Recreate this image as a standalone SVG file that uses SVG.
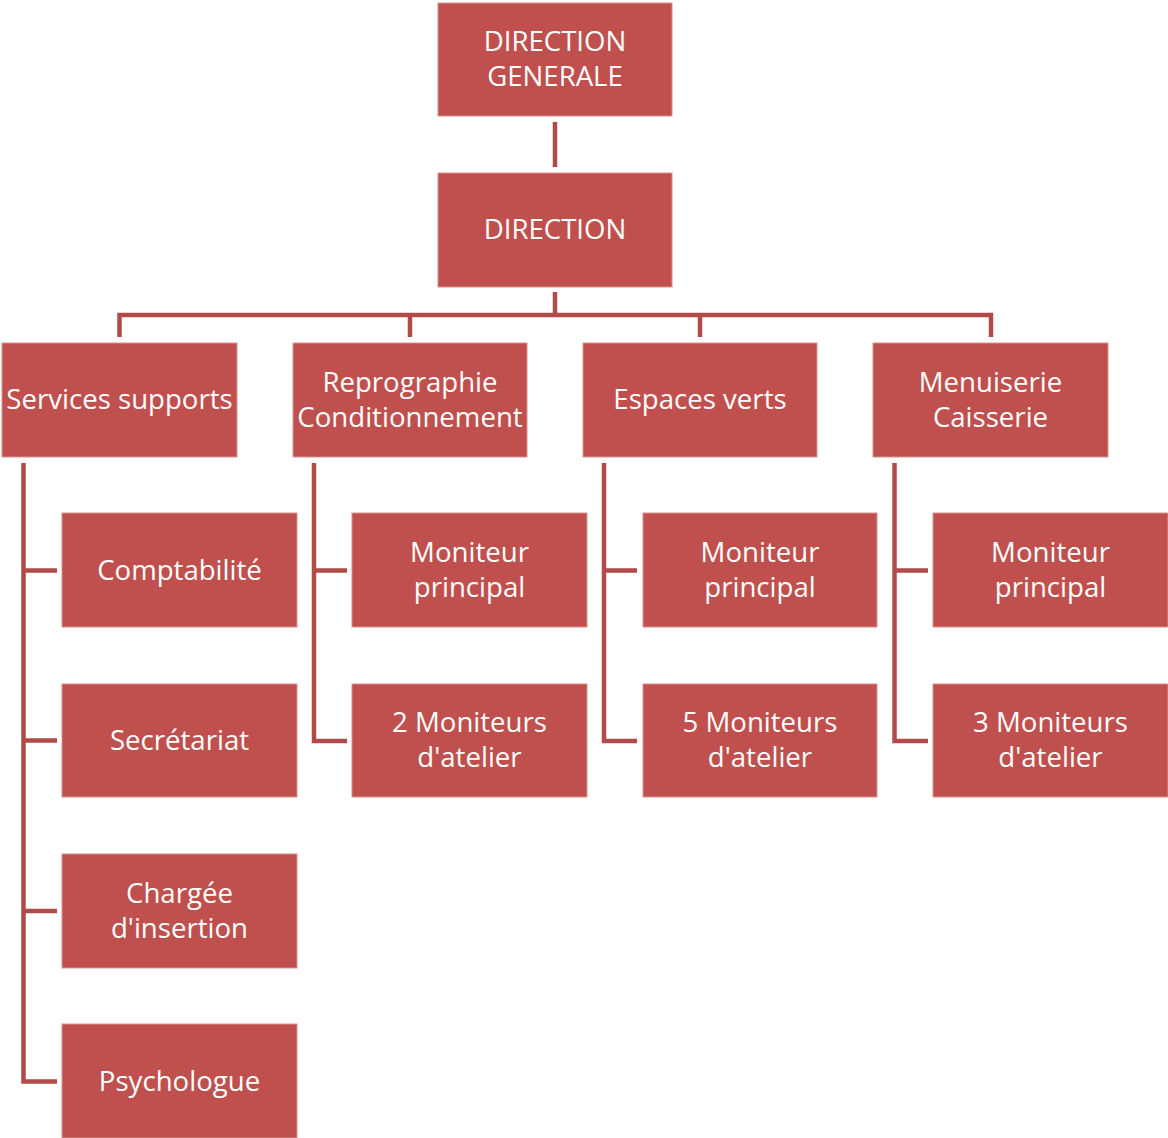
<svg xmlns="http://www.w3.org/2000/svg" width="1168" height="1138" viewBox="0 0 1168 1138">
<style>
.box{fill:#C0504D;stroke:#D9908E;stroke-width:1}
.t{font-family:"Open Sans","Liberation Sans",sans-serif;font-size:27.6px;fill:#FFFFFF;text-anchor:middle}
.c{fill:none;stroke:#B14A48;stroke-width:4.5;stroke-linejoin:miter}
</style>
<rect width="1168" height="1138" fill="#FFFFFF"/>
<g id="connectors">
<path class="c" d="M555 122V167"/>
<path class="c" d="M555 292V315M119.5 337V315H991V337M410 315V337M700 315V337"/>
<path class="c" d="M23.5 463V1081.5H57M23.5 570.5H57M23.5 740.5H57M23.5 911H57"/>
<path class="c" d="M314 463V741H347M314 570.5H347"/>
<path class="c" d="M604 463V741H637M604 570.5H637"/>
<path class="c" d="M894.5 463V741H928M894.5 570.5H928"/>
</g>
<g id="n-dg"><rect class="box" x="438" y="3" width="234" height="113"/><text class="t" x="555" y="51">DIRECTION</text><text class="t" x="555" y="86">GENERALE</text></g>
<g id="n-dir"><rect class="box" x="438" y="173" width="234" height="114"/><text class="t" x="555" y="239">DIRECTION</text></g>
<g id="n-ss"><rect class="box" x="2" y="343" width="235" height="114"/><text class="t" x="119.5" y="409">Services supports</text></g>
<g id="n-rc"><rect class="box" x="293" y="343" width="234" height="114"/><text class="t" x="410" y="392">Reprographie</text><text class="t" x="410" y="427">Conditionnement</text></g>
<g id="n-ev"><rect class="box" x="583" y="343" width="234" height="114"/><text class="t" x="700" y="409">Espaces verts</text></g>
<g id="n-mc"><rect class="box" x="873" y="343" width="235" height="114"/><text class="t" x="990.5" y="392">Menuiserie</text><text class="t" x="990.5" y="427">Caisserie</text></g>
<g id="n-compta"><rect class="box" x="62" y="513" width="235" height="114"/><text class="t" x="179.5" y="580">Comptabilité</text></g>
<g id="n-secr"><rect class="box" x="62" y="684" width="235" height="113"/><text class="t" x="179.5" y="750">Secrétariat</text></g>
<g id="n-charg"><rect class="box" x="62" y="854" width="235" height="114"/><text class="t" x="179.5" y="903">Chargée</text><text class="t" x="179.5" y="938">d'insertion</text></g>
<g id="n-psy"><rect class="box" x="62" y="1024" width="235" height="114"/><text class="t" x="179.5" y="1091">Psychologue</text></g>
<g id="n-rc-mp"><rect class="box" x="352" y="513" width="235" height="114"/><text class="t" x="469.5" y="562">Moniteur</text><text class="t" x="469.5" y="597">principal</text></g>
<g id="n-rc-ma"><rect class="box" x="352" y="684" width="235" height="113"/><text class="t" x="469.5" y="732">2 Moniteurs</text><text class="t" x="469.5" y="767">d'atelier</text></g>
<g id="n-ev-mp"><rect class="box" x="643" y="513" width="234" height="114"/><text class="t" x="760" y="562">Moniteur</text><text class="t" x="760" y="597">principal</text></g>
<g id="n-ev-ma"><rect class="box" x="643" y="684" width="234" height="113"/><text class="t" x="760" y="732">5 Moniteurs</text><text class="t" x="760" y="767">d'atelier</text></g>
<g id="n-mc-mp"><rect class="box" x="933" y="513" width="235" height="114"/><text class="t" x="1050.5" y="562">Moniteur</text><text class="t" x="1050.5" y="597">principal</text></g>
<g id="n-mc-ma"><rect class="box" x="933" y="684" width="235" height="113"/><text class="t" x="1050.5" y="732">3 Moniteurs</text><text class="t" x="1050.5" y="767">d'atelier</text></g>
</svg>
